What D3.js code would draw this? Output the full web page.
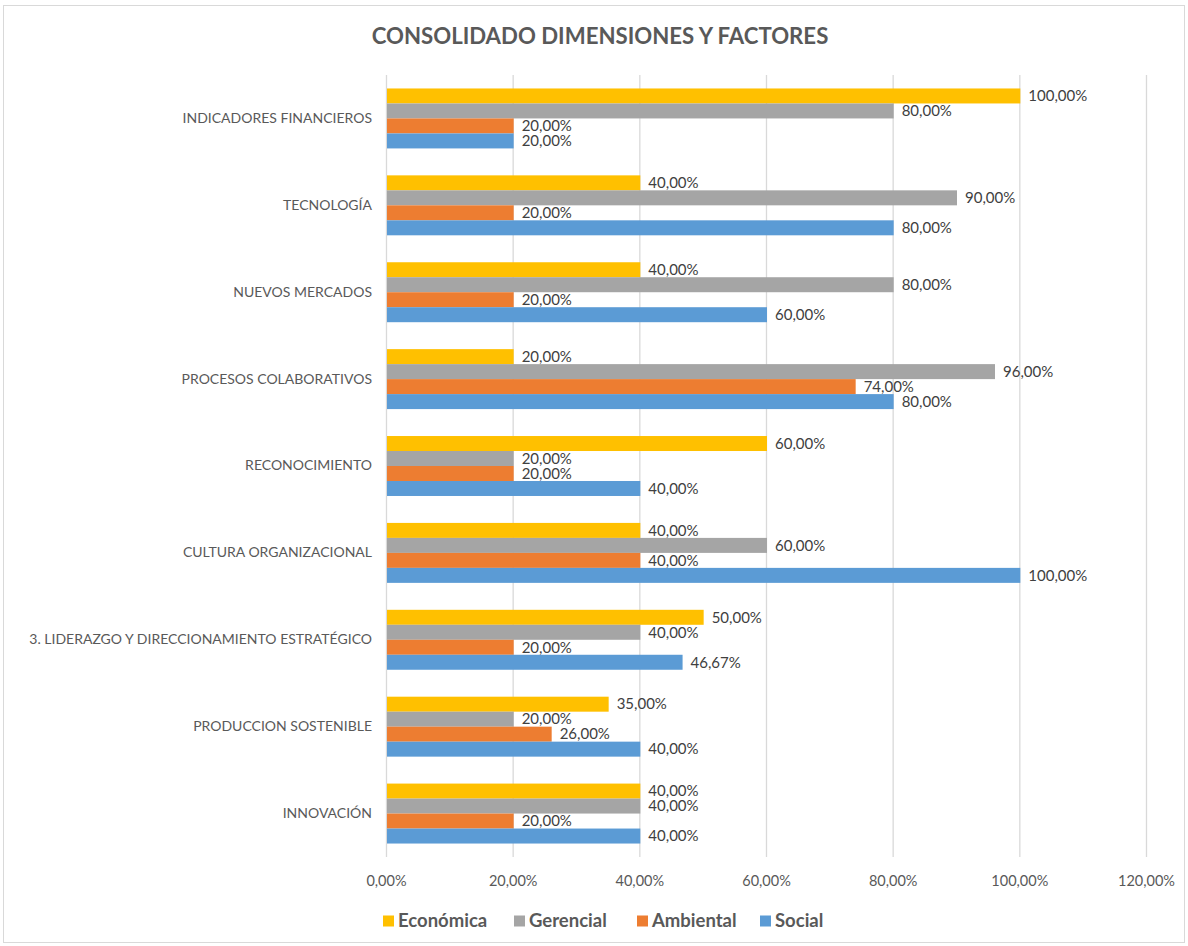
<!DOCTYPE html>
<html><head><meta charset="utf-8">
<script src="https://cdn.jsdelivr.net/npm/d3@7"></script>
<style>
html,body{margin:0;padding:0;background:#fff;}
svg{display:block;}
</style></head>
<body>
<script>
const categories = ["INDICADORES FINANCIEROS","TECNOLOGÍA","NUEVOS MERCADOS","PROCESOS COLABORATIVOS","RECONOCIMIENTO","CULTURA ORGANIZACIONAL","3. LIDERAZGO Y DIRECCIONAMIENTO ESTRATÉGICO ","PRODUCCION SOSTENIBLE","INNOVACIÓN"];
const seriesNames = ["Económica","Gerencial","Ambiental","Social"];
const seriesColors = ["#FFC000","#A5A5A5","#ED7D31","#5B9BD5"];
const economica = [100,40,40,20,60,40,50,35,40];
const gerencial = [80,90,80,96,20,60,40,20,40];
const ambiental = [20,20,20,74,20,40,20,26,20];
const social = [20,80,60,80,40,100,46.67,40,40];
const xTicks = [0,20,40,60,80,100,120];

(function(){
const values = [economica, gerencial, ambiental, social];
const W = 1188, H = 946;
const svg = d3.select("body").append("svg").attr("width", W).attr("height", H);
const font = "Lato, 'Open Sans', sans-serif";
const fmt = v => d3.format(".2f")(v).replace(".", ",") + "%";

svg.append("rect").attr("x", 3.5).attr("y", 5.5).attr("width", W - 7).attr("height", H - 9)
  .attr("fill", "#fff").attr("stroke", "#d9d9d9").attr("stroke-width", 1);

svg.append("text").attr("x", 600).attr("y", 44).attr("text-anchor", "middle")
  .attr("font-family", font).attr("font-weight", "bold").attr("font-size", 22.2)
  .attr("fill", "#595959").text("CONSOLIDADO DIMENSIONES Y FACTORES");

const pLeft = 386, pRight = 1146, pTop = 75, pBottom = 857;
const x = d3.scaleLinear().domain([0, 120]).range([pLeft, pRight]);
const y = d3.scaleBand().domain(categories).range([pTop, pBottom]).paddingInner(0.31).paddingOuter(0.155);
const y1 = d3.scaleBand().domain(seriesNames).range([0, y.bandwidth()]);

svg.append("g").selectAll("line").data(xTicks).join("line")
  .attr("x1", d => x(d) + 0.5).attr("x2", d => x(d) + 0.5)
  .attr("y1", pTop).attr("y2", pBottom)
  .attr("stroke", "#d9d9d9").attr("stroke-width", 1.3);

const xAxis = d3.axisBottom(x).tickValues(xTicks).tickFormat(fmt).tickSize(0).tickPadding(19);
const gx = svg.append("g").attr("transform", `translate(0,${pBottom})`).call(xAxis);
gx.select(".domain").remove();
gx.selectAll("text").attr("font-family", font).attr("font-size", 14.5).attr("fill", "#595959");

const yAxis = d3.axisLeft(y).tickSize(0).tickPadding(14);
const gy = svg.append("g").attr("transform", `translate(${pLeft},0)`).call(yAxis);
gy.select(".domain").remove();
gy.selectAll("text").attr("font-family", font).attr("font-size", 14).attr("fill", "#595959");

const groups = svg.append("g").selectAll("g").data(categories).join("g")
  .attr("transform", d => `translate(0,${y(d)})`);
groups.each(function(cat, ci) {
  const g = d3.select(this);
  seriesNames.forEach((s, si) => {
    const v = values[si][ci];
    g.append("rect").attr("x", x(0) + 1).attr("y", y1(s))
      .attr("width", x(v) - x(0)).attr("height", y1.bandwidth())
      .attr("fill", seriesColors[si]);
    g.append("text").attr("x", x(v) + 9).attr("y", y1(s) + y1.bandwidth() / 2 + 1.5)
      .attr("dominant-baseline", "middle")
      .attr("font-family", font).attr("font-size", 15).attr("fill", "#404040")
      .text(fmt(v));
  });
});

const legendX = [383, 514, 637, 760];
const lg = svg.append("g").selectAll("g").data(seriesNames).join("g")
  .attr("transform", (d, i) => `translate(${legendX[i]},921)`);
lg.append("rect").attr("x", 0).attr("y", -5.5).attr("width", 11).attr("height", 11)
  .attr("fill", (d, i) => seriesColors[i]);
lg.append("text").attr("x", 15).attr("y", 1).attr("dominant-baseline", "middle")
  .attr("font-family", font).attr("font-weight", "bold").attr("font-size", 18.5)
  .attr("fill", "#595959").text(d => d);
})();
</script>
</body></html>
